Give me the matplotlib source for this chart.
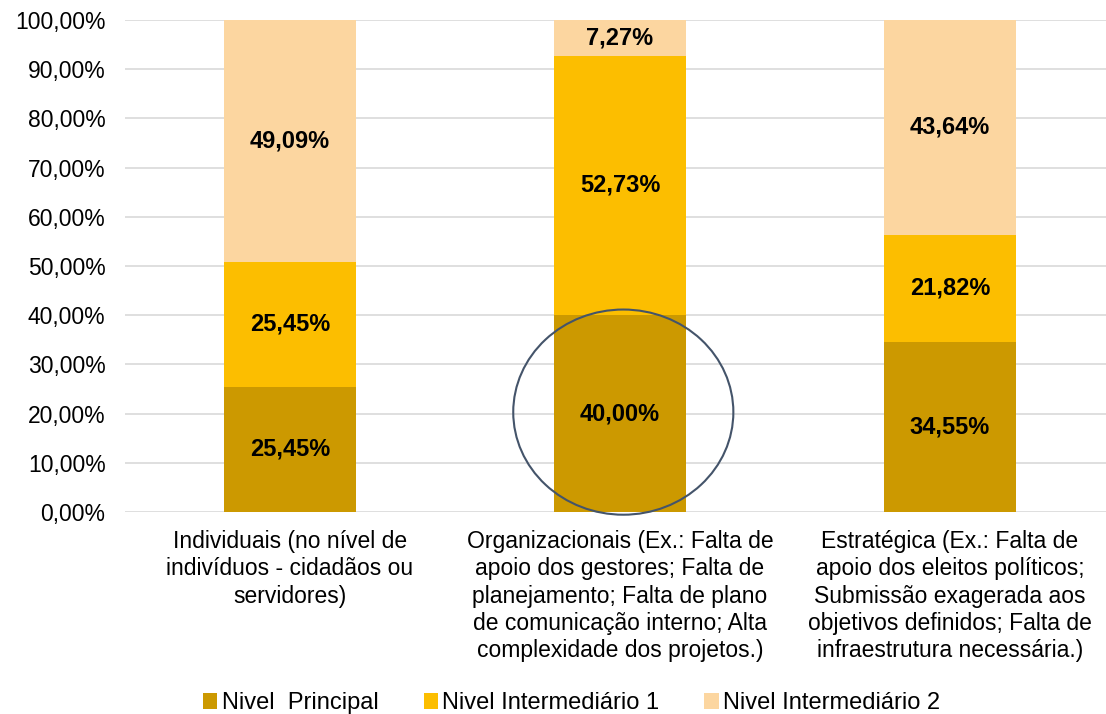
import matplotlib
matplotlib.use("Agg")
import matplotlib.pyplot as plt
from matplotlib.patches import Ellipse, Patch

plt.rcParams["font.family"] = ["Liberation Sans", "DejaVu Sans"]

categories = [
    "Individuais (no nível de\nindivíduos - cidadãos ou\nservidores)",
    "Organizacionais (Ex.: Falta de\napoio dos gestores; Falta de\nplanejamento; Falta de plano\nde comunicação interno; Alta\ncomplexidade dos projetos.)",
    "Estratégica (Ex.: Falta de\napoio dos eleitos políticos;\nSubmissão exagerada aos\nobjetivos definidos; Falta de\ninfraestrutura necessária.)",
]
series_names = ["Nivel  Principal", "Nivel Intermediário 1", "Nivel Intermediário 2"]
principal = [25.45, 40.00, 34.55]
intermediario1 = [25.45, 52.73, 21.82]
intermediario2 = [49.09, 7.27, 43.64]
colors = ["#CC9900", "#FCBE00", "#FCD6A0"]

fig = plt.figure(figsize=(11.06, 7.14), dpi=100)
ax = fig.add_axes([125 / 1106, 202 / 714, 981 / 1106, 492 / 714])

x = list(range(len(categories)))
bottom = [0, 0, 0]
for vals, col in zip([principal, intermediario1, intermediario2], colors):
    ax.bar(x, vals, width=0.4, bottom=bottom, color=col, zorder=2)
    for xi, b, v in zip(x, bottom, vals):
        ax.text(xi, b + v / 2, ("%.2f%%" % v).replace(".", ","), ha="center", va="center",
                fontsize=17, fontweight="bold", zorder=4)
    bottom = [b + v for b, v in zip(bottom, vals)]

# highlight circle
ax.add_patch(Ellipse((1.01, 20.3), 0.667, 41.7, fill=False, edgecolor="#44546A",
                     linewidth=1.5, zorder=3, clip_on=False))

ax.set_xlim(-0.5, -0.5 + 981 / 330)
ax.set_ylim(0, 100)
ax.set_yticks(range(0, 101, 10))
ax.set_yticklabels(["%d,00%%" % t for t in range(0, 101, 10)], fontsize=16.5)
ax.set_xticks(x)
ax.set_xticklabels(categories, fontsize=16.5, linespacing=1.24, va="top")
ax.tick_params(axis="x", length=0, pad=13)
ax.tick_params(axis="y", length=0, pad=14)
ax.yaxis.grid(True, color="#D9D9D9", linewidth=1.2, zorder=0)
ax.set_axisbelow(True)
for s in ax.spines.values():
    s.set_visible(False)

handles = [Patch(facecolor=c) for c in colors]
fig.legend(handles, series_names, loc="lower center", bbox_to_anchor=(0.517, -0.03), ncol=3,
           frameon=False, fontsize=17, handlelength=0.6, handleheight=0.7,
           handletextpad=0.2, columnspacing=1.9)

fig.savefig("out.png", dpi=100)
